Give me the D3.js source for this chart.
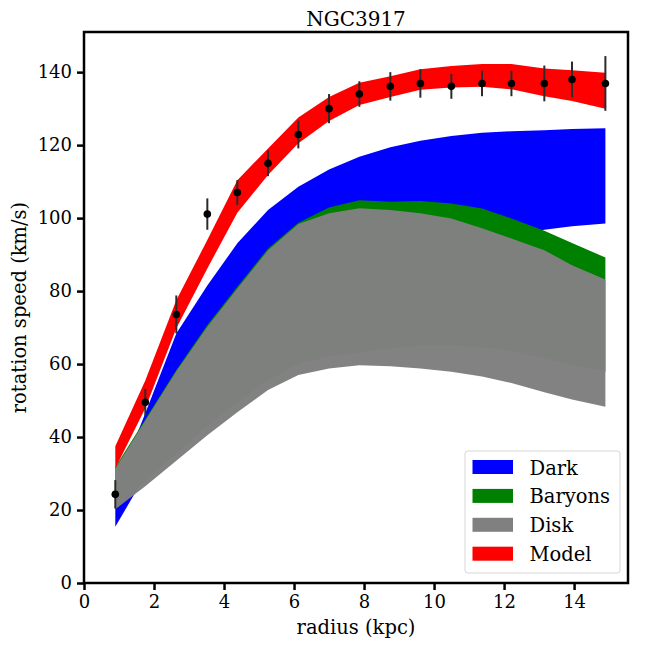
<!DOCTYPE html>
<html>
<head>
<meta charset="utf-8">
<script src="https://cdn.jsdelivr.net/npm/d3@7"></script>
<style>
body { margin:0; background:#fff; }
svg { font-family:"DejaVu Serif", serif; }
</style>
</head>
<body>
<div id="chart"></div>
<script>
// radius in kpc, speeds in km/s
var radius = [0.894, 1.751, 2.637, 3.523, 4.38, 5.257, 6.123, 7.0, 7.866, 8.751, 9.609, 10.494, 11.37, 12.21, 13.15, 13.94, 14.894];
var vrot = [24.3, 49.5, 73.6, 101.1, 107.0, 115.0, 122.9, 130.0, 134.0, 136.1, 136.9, 136.1, 136.9, 136.9, 136.9, 138.0, 136.9];
var verr = [3.9, 3.7, 5.2, 4.3, 3.4, 3.5, 3.8, 4.0, 3.5, 3.9, 3.9, 3.4, 3.5, 3.5, 4.9, 4.9, 7.5];

var darkLo = [15.4, 29.5, 40.5, 51.5, 61, 69, 75.5, 80.5, 84.5, 87.5, 90, 92, 93.8, 95.5, 96.8, 97.8, 98.5];
var darkUp = [26, 46.5, 68.4, 81.5, 93.1, 102.2, 108.6, 113.3, 116.8, 119.4, 121.2, 122.5, 123.4, 123.8, 124.1, 124.4, 124.6];
var baryLo = [21, 28, 35.5, 43, 49.5, 55.5, 60.0, 62.0, 63.2, 64.2, 65.0, 65.0, 64.6, 63.5, 61.5, 59.8, 57.9];
var baryUp = [31.8, 44.9, 58.4, 70.7, 81.2, 91.7, 98.7, 102.9, 104.9, 104.5, 104.7, 104.0, 102.6, 99.9, 96.5, 93.2, 89.2];
var diskLo = [20.2, 26.5, 33.5, 40.5, 46.8, 52.9, 57.0, 58.8, 59.7, 59.4, 58.8, 57.9, 56.6, 54.8, 52.3, 50.3, 48.3];
var diskUp = [31.4, 44.5, 58.0, 70.2, 80.7, 91.2, 98.4, 101.3, 102.7, 102.2, 101.3, 99.9, 97.2, 94.4, 91.2, 87.1, 83.2];
var modelLo = [31.4, 47.9, 69.8, 86.2, 101.5, 111.8, 120.5, 126.6, 131.0, 133.2, 135.2, 135.8, 136.0, 135.3, 133.4, 132.1, 130.0];
var modelUp = [37.5, 55.5, 77.5, 94.0, 110.4, 119.1, 127.6, 133.2, 137.1, 138.9, 140.8, 141.7, 142.2, 142.2, 141.0, 140.5, 139.8];

var bandNames = ["Dark", "Baryons", "Disk", "Model"];
var bandColors = ["#0000ff", "#008000", "#808080", "#ff0000"];
var bandLo = [darkLo, baryLo, diskLo, modelLo];
var bandUp = [darkUp, baryUp, diskUp, modelUp];

var xTicks = [0, 2, 4, 6, 8, 10, 12, 14];
var yTicks = [0, 20, 40, 60, 80, 100, 120, 140];

var W = 648, H = 648;
var pL = 84, pR = 628, pT = 32, pB = 583;

var x = d3.scaleLinear().domain([0, 15.54]).range([pL, pR]);
var y = d3.scaleLinear().domain([0, 151]).range([pB, pT]);

var svg = d3.select("#chart").append("svg")
    .attr("width", W)
    .attr("height", H);

// bands
bandNames.forEach(function(name, k){
    var area = d3.area()
        .x(function(d, i){ return x(radius[i]); })
        .y0(function(d, i){ return y(bandLo[k][i]); })
        .y1(function(d, i){ return y(bandUp[k][i]); });
    svg.append("path")
        .datum(radius)
        .attr("d", area)
        .style("fill", bandColors[k])
        .style("fill-opacity", name == "Disk" ? 0.985 : 1)
        .style("stroke", "none");
});

// error bars + points
var pts = svg.append("g");
radius.forEach(function(r, i){
    pts.append("line")
        .attr("x1", x(r)).attr("x2", x(r))
        .attr("y1", y(vrot[i] - verr[i]))
        .attr("y2", y(vrot[i] + verr[i]))
        .style("stroke", "#2b2b2b")
        .style("stroke-width", 2);
});
radius.forEach(function(r, i){
    pts.append("circle")
        .attr("cx", x(r))
        .attr("cy", y(vrot[i]))
        .attr("r", 3.8)
        .style("fill", "#000");
});

// axes
var xAxis = d3.axisBottom(x).tickValues(xTicks).tickSize(7).tickPadding(5);
var yAxis = d3.axisLeft(y).tickValues(yTicks).tickSize(7).tickPadding(5);

var gx = svg.append("g").attr("transform", "translate(0," + pB + ")").call(xAxis);
var gy = svg.append("g").attr("transform", "translate(" + pL + ",0)").call(yAxis);
[gx, gy].forEach(function(g){
    g.select(".domain").remove();
    g.selectAll(".tick line").style("stroke", "#000").style("stroke-width", 2.5);
    g.selectAll(".tick text").style("font-size", "18px").style("fill", "#000")
        .style("font-family", "DejaVu Serif");
});

svg.append("rect")
    .attr("x", pL).attr("y", pT)
    .attr("width", pR - pL).attr("height", pB - pT)
    .style("fill", "none")
    .style("stroke", "#000")
    .style("stroke-width", 2.5);

svg.append("text")
    .attr("x", (pL + pR) / 2).attr("y", 26)
    .attr("text-anchor", "middle")
    .style("font-size", "20px")
    .text("NGC3917");

svg.append("text")
    .attr("x", (pL + pR) / 2).attr("y", 634)
    .attr("text-anchor", "middle")
    .style("font-size", "19.5px")
    .text("radius (kpc)");

svg.append("text")
    .attr("transform", "translate(26," + ((pT + pB) / 2) + ") rotate(-90)")
    .attr("text-anchor", "middle")
    .style("font-size", "19.5px")
    .text("rotation speed (km/s)");

// legend
var leg = svg.append("g").attr("transform", "translate(465,451)");
leg.append("rect")
    .attr("width", 155).attr("height", 122)
    .attr("rx", 3)
    .style("fill", "#fff").style("fill-opacity", 0.8)
    .style("stroke", "#d6d6d6").style("stroke-width", 1);
bandNames.forEach(function(name, k){
    var row = leg.append("g").attr("transform", "translate(0," + (16 + k * 28.9) + ")");
    row.append("rect")
        .attr("x", 7.5).attr("y", -7)
        .attr("width", 40.5).attr("height", 14)
        .style("fill", bandColors[k]);
    row.append("text")
        .attr("x", 64.5).attr("y", 7.5)
        .style("font-size", "19.5px")
        .text(name);
});
</script>
</body>
</html>
